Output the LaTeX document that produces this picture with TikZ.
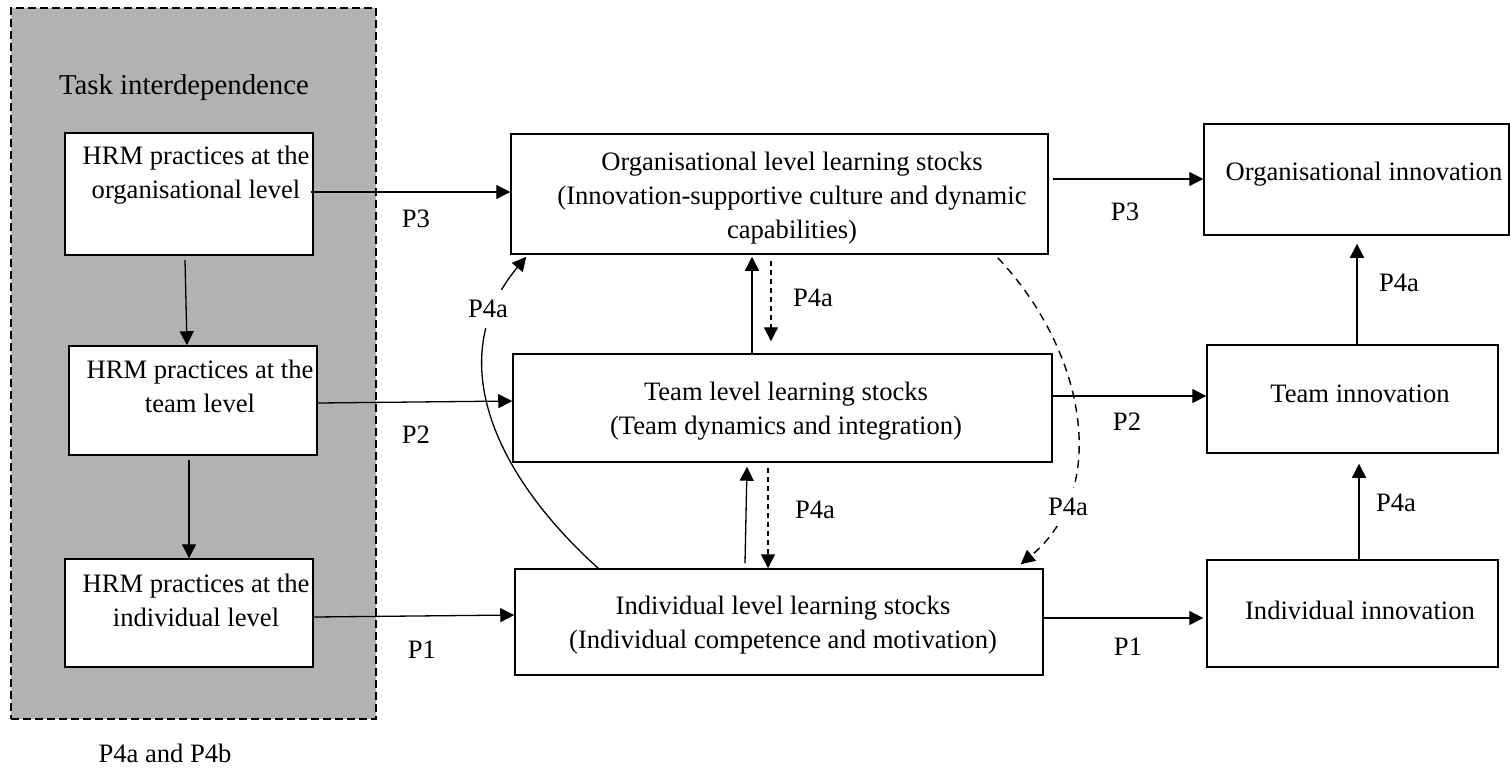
\documentclass[tikz,border=0pt]{standalone}
\usepackage{fontspec}
\setmainfont{Liberation Serif}
\usetikzlibrary{arrows.meta}
\definecolor{panelgray}{RGB}{178,178,178}
\begin{document}
\begin{tikzpicture}[x=0.5pt,y=-0.5pt,
  box/.style={draw, line width=0.75pt, fill=white, inner sep=0pt},
  txt/.style={inner sep=0pt, align=center, font=\fontsize{13.3}{17}\selectfont},
  arr/.style={line width=0.65pt, -{Triangle[length=7pt,width=7pt]}},
  darr/.style={arr, dash pattern=on 2.5pt off 2pt},
  curvedash/.style={arr, line width=0.7pt, dash pattern=on 4pt off 3pt},
  masklbl/.style={txt, fill=white, inner xsep=2pt, inner ysep=5pt}]
\useasboundingbox (0,0) rectangle (1510,767);

% grey panel
\node[draw, dash pattern=on 4pt off 2pt, line width=0.6pt, fill=panelgray,
      minimum width=182.5pt, minimum height=355.5pt, inner sep=0pt] (panel) at (193.5,363.5) {};
\node[inner sep=0pt, font=\fontsize{14.4}{17}\selectfont] (title) at (184,88) {Task interdependence};
\node[txt] (foot) at (165,753) {P4a and P4b};

% boxes
\node[box, minimum width=124pt, minimum height=61pt] (hrmO) at (189,194) {};
\node[box, minimum width=124pt, minimum height=54.5pt] (hrmT) at (193,400.5) {};
\node[box, minimum width=124pt, minimum height=54pt] (hrmI) at (189,613) {};
\node[box, minimum width=268.5pt, minimum height=60pt] (orgS) at (779.5,194) {};
\node[box, minimum width=269.5pt, minimum height=54pt] (teamS) at (782.5,408) {};
\node[box, minimum width=264pt, minimum height=53pt] (indS) at (779,622) {};
\node[box, minimum width=152.5pt, minimum height=55.5pt] (orgI) at (1356.5,179.5) {};
\node[box, minimum width=145.5pt, minimum height=54pt] (teamI) at (1352.5,399) {};
\node[box, minimum width=145.5pt, minimum height=53.5pt] (indI) at (1352.5,613.5) {};

% box texts
\node[txt] (hrmOt) at (196,175) {HRM practices at the\\organisational level};
\node[txt] (hrmTt) at (200,386.5) {HRM practices at the\\team level};
\node[txt] (hrmIt) at (196,600.5) {HRM practices at the\\individual level};
\node[txt] (orgSt) at (792,198.5) {Organisational level learning stocks\\(Innovation-supportive culture and dynamic\\capabilities)};
\node[txt] (teamSt) at (786,411.5) {Team level learning stocks\\(Team dynamics and integration)};
\node[txt] (indSt) at (783,625.5) {Individual level learning stocks\\(Individual competence and motivation)};
\node[txt] (orgIt) at (1364,174) {Organisational innovation};
\node[txt] (teamIt) at (1360,394) {Team innovation};
\node[txt] (indIt) at (1360,610) {Individual innovation};

% left column
\draw[arr] ([shift={(-4,4)}]hrmO.south) -- ([shift={(-6,0)}]hrmT.north);
\draw[arr] ([shift={(-4,4)}]hrmT.south) -- (hrmI.north);

% horizontal arrows
\draw[arr] ([shift={(-3,-2)}]hrmO.east) -- ([shift={(0,-2)}]orgS.west);
\draw[arr] ([shift={(0,2.5)}]hrmT.east) -- ([shift={(0,-7)}]teamS.west);
\draw[arr] ([shift={(0,4)}]hrmI.east) -- ([shift={(0,-7)}]indS.west);
\draw[arr] ([shift={(4,-15)}]orgS.east) -- ([shift={(0,-0.5)}]orgI.west);
\draw[arr] ([shift={(0,-12)}]teamS.east) -- ([shift={(0,-3)}]teamI.west);
\draw[arr] ([shift={(0,-4)}]indS.east) -- ([shift={(-3,4.5)}]indI.west);

% right column
\draw[arr] ([shift={(4.5,0)}]teamI.north) -- ([shift={(0.5,8)}]orgI.south);
\draw[arr] ([shift={(6.5,0)}]indI.north) -- ([shift={(6.5,10)}]teamI.south);

% middle column
\draw[arr] ([shift={(-30.5,0)}]teamS.north) -- ([shift={(-27.5,2)}]orgS.south);
\draw[darr] ([shift={(-8.5,6)}]orgS.south) -- ([shift={(-11.5,-12)}]teamS.north);
\draw[arr] ([shift={(-34,-5)}]indS.north) -- ([shift={(-35.5,4)}]teamS.south);
\draw[darr] ([shift={(-14.5,5)}]teamS.south) -- ([shift={(-11,0)}]indS.north);

% curves
\draw[arr] ([shift={(84,0)}]indS.north west) .. controls +(-99,-89) and +(-87,104) .. ([shift={(16,2)}]orgS.south west);
\draw[curvedash] ([shift={(-51,3)}]orgS.south east) .. controls +(88,93) and +(90,-75) .. ([shift={(-23,-4)}]indS.north east);

% labels
\node[txt] (lP3) at (416,219) {P3};
\node[txt] (lP2) at (416,435) {P2};
\node[txt] (lP1) at (422,650) {P1};
\node[txt] (rP3) at (1125,212) {P3};
\node[txt] (rP2) at (1127,422) {P2};
\node[txt] (rP1) at (1128,647) {P1};
\node[txt] (q1) at (1399,283) {P4a};
\node[txt] (q2) at (1396,503) {P4a};
\node[txt] (q3) at (813,298) {P4a};
\node[txt] (q4) at (815,510) {P4a};
\node[masklbl] (q5) at (488,309) {P4a};
\node[masklbl] (q6) at (1068,507) {P4a};
\end{tikzpicture}
\end{document}
